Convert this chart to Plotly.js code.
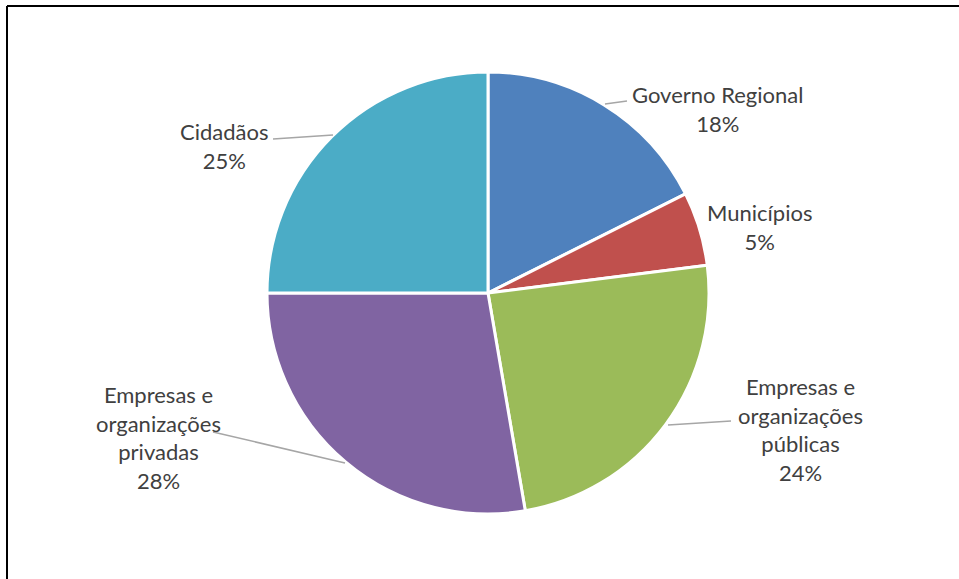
<!DOCTYPE html>
<html>
<head>
<meta charset="utf-8">
<script src="https://cdn.plot.ly/plotly-3.0.1.min.js"></script>
<style>
html,body{margin:0;padding:0;background:#fff;}
#chart{width:959px;height:579px;}
</style>
</head>
<body>
<div id="chart"></div>
<script>
// Data
const categories = ["Governo Regional", "Municípios", "Empresas e<br>organizações<br>públicas", "Empresas e<br>organizações<br>privadas", "Cidadãos"];
const shares = [17.6, 5.4, 24.3, 27.7, 25.0];
const sliceColors = ["#4F81BD", "#C0504D", "#9BBB59", "#8064A2", "#4BACC6"];

const W = 959, H = 579;
const px = x => x / W;
const py = y => 1 - y / H;

// label block centres (pixels) and leader lines (pixels), styling only
const labelPos = [[717, 109], [759, 227], [800, 429], [158, 437], [224, 146]];
const leaders = [
  [[605, 104], [627, 101]],
  null,
  [[668, 425], [731, 421]],
  [[345, 463], [213, 432]],
  [[333, 135], [273, 139]]
];

const total = shares.reduce((a, b) => a + b, 0);
const annotations = categories.map((c, i) => ({
  xref: "paper", yref: "paper",
  x: px(labelPos[i][0]), y: py(labelPos[i][1]),
  xanchor: "center", yanchor: "middle",
  text: c + "<br>" + Math.round(shares[i] / total * 100) + "%",
  showarrow: false,
  align: "center",
  font: {family: "Lato, 'Open Sans', sans-serif", size: 22, color: "#404040"}
}));

const shapes = [];
leaders.forEach(l => {
  if (!l) return;
  shapes.push({type: "line", xref: "paper", yref: "paper",
    x0: px(l[0][0]), y0: py(l[0][1]), x1: px(l[1][0]), y1: py(l[1][1]),
    line: {color: "#A6A6A6", width: 1.5}});
});
// chart frame (left and top edges visible)
shapes.push({type: "line", xref: "paper", yref: "paper", x0: px(7), y0: py(6), x1: 1.01, y1: py(6), line: {color: "#000", width: 2}});
shapes.push({type: "line", xref: "paper", yref: "paper", x0: px(7), y0: py(6), x1: px(7), y1: -0.01, line: {color: "#000", width: 2}});

const trace = {
  type: "pie",
  labels: categories,
  values: shares,
  sort: false,
  direction: "clockwise",
  rotation: 0,
  textinfo: "none",
  hoverinfo: "none",
  marker: {colors: sliceColors, line: {color: "#FFFFFF", width: 3}},
  domain: {x: [px(267), px(709)], y: [py(514), py(72)]},
  showlegend: false
};

const layout = {
  width: W, height: H,
  margin: {l: 0, r: 0, t: 0, b: 0},
  paper_bgcolor: "#FFFFFF",
  showlegend: false,
  annotations: annotations,
  shapes: shapes
};

Plotly.newPlot("chart", [trace], layout, {staticPlot: true, displayModeBar: false});
</script>
</body>
</html>
